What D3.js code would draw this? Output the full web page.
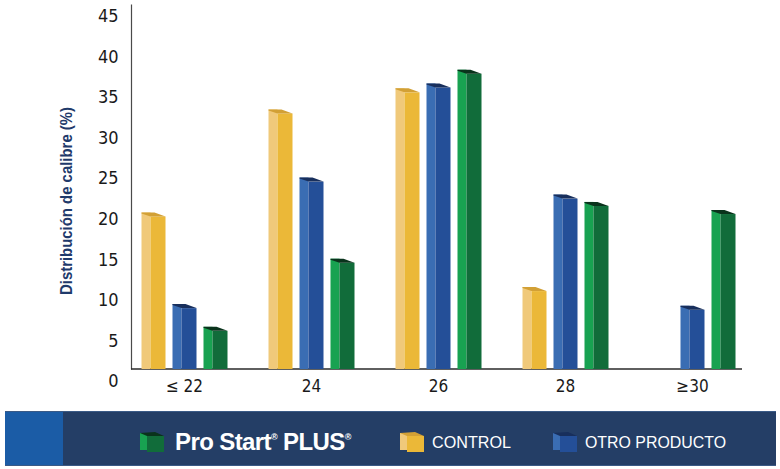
<!DOCTYPE html>
<html>
<head>
<meta charset="utf-8">
<script src="https://cdn.jsdelivr.net/npm/d3@7"></script>
<style>
  html, body { margin: 0; padding: 0; background: #ffffff; }
  svg { display: block; }
</style>
</head>
<body>
<svg id="chart" width="780" height="469"></svg>
<script>
// ---------------- DATA ----------------
const categories = ["≤ 22", "24", "26", "28", "≥30"];
const seriesKeys = ["control", "otro", "prostart"];          // order inside each group
const controlValues  = [19.3, 32.0, 34.6, 10.1, 0];
const otroValues     = [8.0, 23.6, 35.2, 21.5, 7.8];
const proStartValues = [5.2, 13.6, 36.9, 20.6, 19.6];
const yTicks = [0, 5, 10, 15, 20, 25, 30, 35, 40, 45];
const legendOrder = ["prostart", "control", "otro"];
const legendLabels = { control: "CONTROL", otro: "OTRO PRODUCTO" };
const yTitle = "Distribución de calibre (%)";

// ---------------- STYLE ----------------
const colors = {
  control:  { light: "#f0c97a", main: "#ebb838", cap: "#d2a035" },
  otro:     { light: "#3a6db3", main: "#244f98", cap: "#182f5c" },
  prostart: { light: "#18a251", main: "#116c3a", cap: "#0a331c" }
};
const valuesByKey = { control: controlValues, otro: otroValues, prostart: proStartValues };

const svg = d3.select("#chart");
const numFont = "'Liberation Sans Narrow', 'DejaVu Sans Condensed', 'Liberation Sans', sans-serif";

// ---------------- SCALES ----------------
const y = d3.scaleLinear().domain([0, 45]).range([369, 4]);
const x0 = d3.scaleBand().domain(categories).range([121, 756]);
const x1 = d3.scalePoint().domain(seriesKeys).range([-31, 31]);
const barW = 24, lightW = 9, capH = 4;

// ---------------- AXES ----------------
const yAxis = d3.axisLeft(y).tickValues(yTicks).tickSize(0).tickSizeOuter(0).tickPadding(12.5);
const gy = svg.append("g").attr("transform", "translate(131,0)").call(yAxis);
gy.select(".domain").attr("stroke", "#4a4a4a").attr("stroke-width", 1.2);
gy.selectAll("text")
  .attr("y", 12)
  .attr("font-family", numFont)
  .attr("font-size", 18)
  .attr("fill", "#1a1a1a");

const xAxis = d3.axisBottom(x0).tickSize(0).tickPadding(0);
const gx = svg.append("g").attr("transform", "translate(0,369)").call(xAxis);
gx.select(".domain").remove();
gx.selectAll("text")
  .attr("y", 23)
  .attr("dy", "0")
  .attr("font-family", numFont)
  .attr("font-size", 17)
  .attr("fill", "#1a1a1a");

// baseline
svg.append("line")
  .attr("x1", 131).attr("x2", 742)
  .attr("y1", y(0)).attr("y2", y(0))
  .attr("stroke", "#2a2a2a").attr("stroke-width", 1.6);

// y title
svg.append("text")
  .attr("transform", "translate(72,201) rotate(-90)")
  .attr("text-anchor", "middle")
  .attr("font-family", "'Liberation Sans Narrow', 'Liberation Sans', sans-serif")
  .attr("font-weight", "bold")
  .attr("font-size", 17)
  .attr("textLength", 188)
  .attr("lengthAdjust", "spacingAndGlyphs")
  .attr("fill", "#1f3a6b")
  .text(yTitle);

// ---------------- BARS ----------------
const bars = [];
categories.forEach((c, i) => {
  seriesKeys.forEach(k => {
    const v = valuesByKey[k][i];
    if (v > 0) bars.push({ c, k, v });
  });
});

const gBars = svg.append("g");
const bg = gBars.selectAll("g.bar").data(bars).join("g").attr("class", "bar");

function bx(d) { return x0(d.c) + x0.bandwidth() / 2 + x1(d.k) - barW / 2; }

bg.append("rect")
  .attr("x", d => bx(d))
  .attr("y", d => y(d.v))
  .attr("width", lightW)
  .attr("height", d => y(0) - y(d.v))
  .attr("fill", d => colors[d.k].light);
bg.append("rect")
  .attr("x", d => bx(d) + lightW)
  .attr("y", d => y(d.v) + capH)
  .attr("width", barW - lightW)
  .attr("height", d => y(0) - y(d.v) - capH)
  .attr("fill", d => colors[d.k].main);
bg.append("polygon")
  .attr("points", d => {
    const x = bx(d), t = y(d.v);
    return [[x, t], [x + 13, t], [x + barW, t + capH], [x + lightW, t + capH], [x, t + 1]].map(p => p.join(",")).join(" ");
  })
  .attr("fill", d => colors[d.k].cap);

// ---------------- LEGEND ----------------
svg.append("rect").attr("x", 5).attr("y", 411).attr("width", 771).attr("height", 55).attr("fill", "#243e66");
svg.append("rect").attr("x", 5).attr("y", 411).attr("width", 58).attr("height", 55).attr("fill", "#1b5ca6");
svg.append("line").attr("x1", 5).attr("x2", 776).attr("y1", 411.5).attr("y2", 411.5).attr("stroke", "#3a5a86").attr("stroke-width", 1);
svg.append("line").attr("x1", 5).attr("x2", 776).attr("y1", 465.5).attr("y2", 465.5).attr("stroke", "#3a5a86").attr("stroke-width", 1);

const legendX = { prostart: 140, control: 400, otro: 553 };
function cube(g, k, x) {
  const c = colors[k];
  g.append("rect").attr("x", x).attr("y", 433).attr("width", 7).attr("height", 17).attr("fill", c.light);
  g.append("rect").attr("x", x + 7).attr("y", 436).attr("width", 17).attr("height", 16).attr("fill", c.main);
  g.append("polygon")
    .attr("points", [[x, 433], [x + 15, 432], [x + 24, 436], [x + 7, 436]].map(p => p.join(",")).join(" "))
    .attr("fill", c.cap);
}
const gl = svg.append("g");
legendOrder.forEach(k => cube(gl, k, legendX[k]));

// Pro Start PLUS brand text
const brand = gl.append("text")
  .attr("x", 175).attr("y", 450)
  .attr("font-family", "'Liberation Sans', Arial, sans-serif")
  .attr("font-weight", "bold")
  .attr("font-size", 24)
  .attr("letter-spacing", -0.6)
  .attr("fill", "#ffffff");
brand.append("tspan").text("Pro Start");
brand.append("tspan").attr("font-size", 9).attr("dy", -10).text("®");
brand.append("tspan").attr("dy", 10).attr("font-size", 24).text(" PLUS");
brand.append("tspan").attr("font-size", 9).attr("dy", -10).text("®");

["control", "otro"].forEach(k => {
  gl.append("text")
    .attr("x", legendX[k] + 32).attr("y", 448)
    .attr("font-family", "'Liberation Sans', Arial, sans-serif")
    .attr("font-size", 16)
    .attr("textLength", k === "control" ? 79 : 141)
    .attr("lengthAdjust", "spacingAndGlyphs")
    .attr("fill", "#ffffff")
    .text(legendLabels[k]);
});
</script>
</body>
</html>
